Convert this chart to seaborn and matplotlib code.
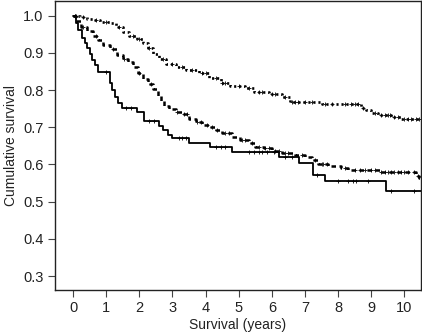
import matplotlib
matplotlib.use("Agg")
import matplotlib.pyplot as plt
import seaborn as sns
import numpy as np
import pandas as pd

# Kaplan-Meier step data (time in years, cumulative survival)
solid_t = [0, 0.08, 0.15, 0.27, 0.35, 0.42, 0.5, 0.57, 0.66, 0.75, 1.1, 1.17, 1.25, 1.36, 1.48,
           1.93, 2.15, 2.6, 2.72, 2.85, 3.0, 3.5, 4.12, 4.8, 6.2, 6.82, 7.25, 7.6, 9.45]
solid_s = [1.0, 0.98, 0.96, 0.94, 0.927, 0.914, 0.897, 0.88, 0.866, 0.848, 0.818, 0.8, 0.78, 0.765, 0.752,
           0.74, 0.716, 0.703, 0.692, 0.68, 0.67, 0.658, 0.646, 0.633, 0.62, 0.603, 0.572, 0.555, 0.53]

dashed_t = [0, 0.1, 0.25, 0.42, 0.6, 0.75, 0.9, 1.1, 1.33, 1.5, 1.65, 1.8, 1.95, 2.1, 2.25, 2.42, 2.55,
            2.65, 2.75, 2.9, 3.1, 3.3, 3.5, 3.7, 3.9, 4.1, 4.3, 4.5, 4.8, 5.05, 5.3, 5.5, 5.75, 6.0,
            6.3, 6.7, 7.0, 7.2, 7.4, 7.7, 8.1, 8.3, 9.25, 10.35, 10.45]
dashed_s = [1.0, 0.985, 0.97, 0.958, 0.945, 0.935, 0.922, 0.91, 0.893, 0.884, 0.874, 0.862, 0.845, 0.83,
            0.817, 0.804, 0.785, 0.77, 0.757, 0.75, 0.742, 0.735, 0.722, 0.714, 0.706, 0.70, 0.693, 0.685,
            0.675, 0.665, 0.657, 0.648, 0.643, 0.637, 0.632, 0.625, 0.62, 0.612, 0.602, 0.596, 0.59, 0.584,
            0.579, 0.568, 0.563]

dotted_t = [0, 0.2, 0.42, 0.6, 0.82, 1.12, 1.3, 1.5, 1.7, 1.93, 2.1, 2.25, 2.42, 2.6, 2.8, 3.1, 3.4, 3.8,
            4.1, 4.45, 4.75, 5.2, 5.45, 5.9, 6.3, 6.55, 7.5, 8.7, 8.85, 9.0, 9.2, 9.6, 9.9]
dotted_s = [1.0, 0.996, 0.992, 0.988, 0.984, 0.979, 0.968, 0.955, 0.946, 0.938, 0.926, 0.914, 0.898, 0.882,
            0.871, 0.861, 0.853, 0.845, 0.832, 0.82, 0.812, 0.806, 0.795, 0.788, 0.78, 0.768, 0.762, 0.752,
            0.745, 0.738, 0.732, 0.727, 0.721]

# censored observation times
solid_cens = [0.05, 1.0, 1.6, 1.75, 2.3, 2.45, 3.2, 3.3, 3.4, 4.3, 4.45, 4.6, 5.3, 5.45, 5.6, 5.7, 5.85,
              6.05, 6.4, 6.6, 7.35, 8.0, 8.3, 8.45, 8.55, 8.9, 9.6, 10.3]
dashed_cens = [0.05, 0.3, 0.7, 1.2, 1.55, 2.0, 2.35, 3.15, 3.35, 3.45, 3.75, 3.85, 4.05, 4.2, 4.35, 4.6,
               4.7, 5.1, 5.2, 5.4, 5.6, 5.8, 5.9, 6.1, 6.2, 6.4, 6.5, 6.9, 7.3, 7.5, 7.55, 7.65, 8.2, 8.5,
               8.65, 8.8, 9.0, 9.1, 9.3, 9.4, 9.5, 9.6, 9.7, 9.8, 9.9, 10.0, 10.1, 10.3, 10.4]
dotted_cens = [0.05, 0.1, 0.3, 0.7, 1.0, 1.4, 1.8, 2.0, 2.3, 2.7, 3.0, 3.3, 3.6, 3.9, 4.0, 4.3, 4.5, 4.6,
               5.0, 5.3, 5.6, 5.7, 6.0, 6.1, 6.4, 6.6, 6.7, 6.8, 7.0, 7.2, 7.6, 7.8, 8.2, 8.4, 8.5, 8.6,
               8.75, 9.1, 9.3, 9.4, 9.5, 9.55, 9.7, 9.8, 10.0, 10.1, 10.2, 10.35, 10.45]

max_follow = 10.5

xticks = list(range(0, 11))
yticks = [0.3, 0.4, 0.5, 0.6, 0.7, 0.8, 0.9, 1.0]

sns.set_style("ticks")
plt.rcParams['font.family'] = ['Liberation Sans', 'DejaVu Sans']

fig = plt.figure(figsize=(4.22, 3.35), dpi=100)
ax = fig.add_axes([0.130, 0.134, 0.8676, 0.864])


def step_value(times, surv, x):
    idx = np.searchsorted(np.asarray(times), x, side='right') - 1
    return np.asarray(surv)[idx]


groups = [
    (solid_t, solid_s, solid_cens, '-', 1.3),
    (dashed_t, dashed_s, dashed_cens, (0, (1.8, 1.4)), 1.8),
    (dotted_t, dotted_s, dotted_cens, (0, (0.8, 1.1)), 1.9),
]

for t, s, cens, ls, lw in groups:
    df = pd.DataFrame({'t': list(t) + [max_follow], 's': list(s) + [s[-1]]})
    sns.lineplot(data=df, x='t', y='s', drawstyle='steps-post', color='black',
                 linestyle=ls, linewidth=lw, ax=ax, estimator=None, sort=True)
    cdf = pd.DataFrame({'t': cens, 's': step_value(t, s, np.asarray(cens))})
    sns.scatterplot(data=cdf, x='t', y='s', marker='+', color='#222222', s=11,
                    linewidth=0.7, ax=ax)

ax.set_xlim(-0.55, 10.5)
ax.set_ylim(0.2625, 1.04)
ax.set_xticks(xticks)
ax.set_yticks(yticks)
ax.set_yticklabels([f"{v:.1f}" for v in yticks])
ax.set_xlabel("Survival (years)", fontsize=10, color='#222222', labelpad=2)
ax.set_ylabel("Cumulative survival", fontsize=10, color='#222222', labelpad=4)
ax.tick_params(axis='both', labelsize=10.5, length=5, width=0.8, colors='#444444',
               labelcolor='#222222', direction='out', pad=3)
for sp in ax.spines.values():
    sp.set_visible(True)
    sp.set_linewidth(1.0)
    sp.set_color('#222222')

fig.savefig("out.png", dpi=100)
